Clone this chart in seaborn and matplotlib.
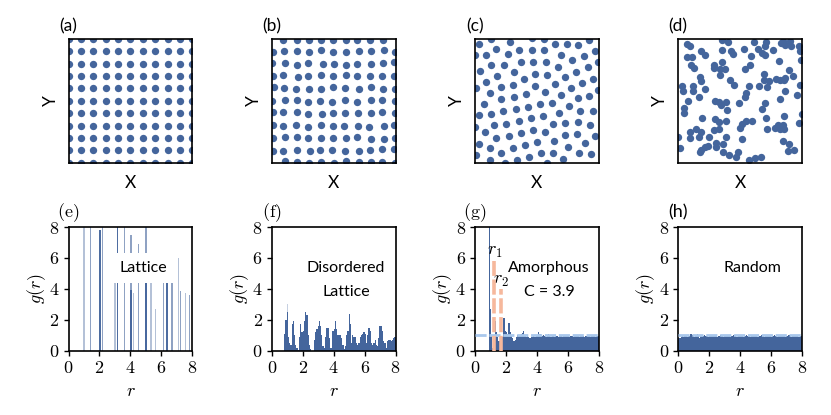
import numpy as np
import pandas as pd
import seaborn as sns
import matplotlib
matplotlib.use('Agg')
import matplotlib.pyplot as plt

# lattice positions
lattice_x = [0, 1, 2, 3, 4, 5, 6, 7, 8, 9, 10]
lattice_y = [0, 1, 2, 3, 4, 5, 6, 7, 8, 9, 10]

# point positions (arbitrary units, y pointing down)
disordered_pts = [
    (130, 90), (170, 90), (208, 90), (243, 90), (280, 90), (320, 90), (353, 90), (392, 90), (430, 90),
    (100, 126), (133, 123), (172, 124), (206, 126), (244, 121), (279, 127), (319, 127), (358, 124), (395, 125), (433, 121), (465, 126),
    (97, 160), (135, 160), (171, 165), (205, 159), (248, 164), (282, 164), (318, 165), (353, 164), (394, 164), (429, 160), (462, 158),
    (100, 200), (128, 196), (173, 202), (203, 198), (242, 195), (280, 200), (319, 196), (352, 199), (390, 198), (428, 198), (462, 200),
    (102, 232), (133, 235), (169, 238), (208, 238), (244, 238), (280, 232), (316, 235), (358, 238), (394, 233), (431, 237), (465, 238),
    (97, 272), (136, 270), (170, 270), (203, 276), (240, 272), (278, 276), (317, 270), (352, 276), (394, 270), (427, 270), (465, 273),
    (100, 307), (130, 307), (170, 306), (205, 312), (245, 312), (279, 310), (317, 310), (354, 309), (393, 310), (427, 306), (465, 309),
    (98, 345), (130, 348), (168, 346), (204, 350), (243, 346), (279, 347), (314, 347), (355, 349), (389, 350), (433, 348), (462, 345),
    (98, 383), (136, 380), (170, 380), (204, 385), (242, 385), (281, 385), (320, 383), (351, 380), (395, 386), (433, 386), (465, 383),
    (98, 423), (130, 422), (171, 419), (210, 422), (241, 420), (278, 420), (315, 422), (357, 423), (390, 420), (427, 418), (462, 418),
    (135, 452), (170, 456), (207, 458), (243, 456), (283, 458), (320, 452), (358, 456), (394, 456), (428, 456), (465, 458),
]
amorphous_pts = [
    (103, 103), (138, 88), (196, 96), (260, 86), (296, 88), (330, 103), (366, 103), (401, 107), (434, 92),
    (90, 135), (122, 135), (154, 119), (188, 132), (223, 122), (260, 120), (297, 121), (349, 135), (451, 124), (417, 140),
    (139, 166), (176, 167), (227, 158), (264, 157), (303, 156), (338, 171), (381, 152), (430, 173), (460, 158),
    (106, 183), (156, 198), (206, 188), (270, 192), (306, 195), (360, 201), (394, 187),
    (122, 217), (169, 231), (204, 225), (237, 207), (269, 229), (329, 224), (413, 219), (446, 207),
    (93, 235), (136, 250), (168, 268), (207, 261), (244, 254), (300, 247), (349, 255), (380, 234), (401, 265), (434, 258), (460, 240),
    (118, 281), (175, 304), (213, 297), (250, 290), (286, 282), (322, 278), (373, 289), (407, 302), (444, 304),
    (103, 316), (139, 311), (342, 308), (294, 319), (258, 325), (221, 334), (184, 341), (148, 346), (90, 350),
    (119, 367), (154, 383), (191, 379), (228, 370), (265, 361), (301, 367), (324, 341), (362, 339), (399, 337), (436, 345),
    (102, 401), (136, 415), (203, 414), (239, 405), (276, 395), (327, 392), (360, 376), (396, 373), (452, 378), (421, 398),
    (92, 434), (169, 430), (252, 440), (289, 428), (324, 428), (370, 411), (402, 429), (438, 431),
    (134, 450), (217, 449), (306, 458), (356, 446), (180, 458),
]
random_pts = [
    (112, 102), (122, 108), (218, 90), (236, 98), (312, 98), (350, 98), (346, 110), (395, 100), (405, 105), (420, 95), (400, 93), (425, 110), (448, 108), (450, 125),
    (155, 125), (165, 135), (218, 120), (243, 123), (250, 132), (283, 119), (324, 118), (338, 130), (346, 135), (370, 122), (304, 138),
    (112, 142), (127, 142), (453, 150), (389, 153),
    (193, 165), (218, 157), (125, 167), (133, 175), (193, 175), (212, 177), (227, 177), (300, 165), (286, 177), (210, 195), (417, 180), (344, 193), (431, 199),
    (151, 201), (153, 215), (240, 212), (253, 226), (378, 209), (392, 210), (405, 205), (403, 212), (344, 212), (357, 213), (351, 233), (329, 228), (298, 228),
    (96, 228), (100, 243), (131, 230), (130, 245), (167, 237), (405, 244), (452, 227),
    (147, 262), (115, 272), (197, 272), (208, 277), (215, 285), (230, 276), (267, 280), (288, 250), (287, 262), (390, 267), (443, 257), (347, 279), (232, 300), (338, 298),
    (103, 293), (104, 310), (157, 323), (196, 327), (209, 335), (228, 332), (349, 323), (404, 318), (290, 333), (308, 332), (278, 342), (272, 355), (447, 340), (456, 312),
    (122, 365), (140, 357), (155, 365), (193, 360), (207, 358), (352, 357), (375, 355), (385, 345), (400, 345), (390, 358), (403, 358), (122, 384), (149, 380), (179, 381), (228, 381), (277, 386), (85, 382),
    (200, 398), (198, 410), (220, 402), (175, 407), (165, 412), (155, 420), (150, 425), (90, 415), (401, 393), (418, 402), (432, 419), (414, 424),
    (220, 426), (238, 436), (266, 426), (260, 442), (298, 450), (315, 443), (335, 441),
]

# g(r) of the lattice, split by how dark the thin bars look
lattice_r_dark = [2.0, 3.15, 4.0, 5.0, 6.35]
lattice_g_dark = [7.8, 12, 3.9, 4.5, 4.45]
lattice_r_mid = [1.36, 2.2, 3.6, 4.05, 4.5, 5.0, 6.1, 6.67, 7.25, 7.8]
lattice_g_mid = [12, 12, 12, 7.5, 6.9, 12, 4.45, 4.35, 3.85, 3.6]
lattice_r_pale = [1.0, 3.0, 4.17, 5.35, 5.65, 7.05, 7.57]
lattice_g_pale = [12, 4.55, 3.7, 4.45, 2.7, 6.0, 3.7]

# g(r) of the other panels, one value per 0.08 wide bin
disordered_g = [0, 0, 0, 0, 0, 0, 0, 0, 0, 0,
                1.1, 2.0, 2.5, 0.9, 0.5, 0.4, 1.7, 1.9, 1.0, 0.4,
                0.15, 0.05, 0.9, 1.7, 1.2, 1.3, 1.9, 2.5, 2.3, 1.0,
                0.4, 0.1, 0, 0, 0.7, 1.2, 1.4, 1.6, 1.9, 1.6,
                1.0, 0.3, 0.2, 0.9, 1.5, 1.5, 0.8, 0.2, 0.2, 1.3,
                1.4, 1.9, 1.4, 1.0, 1.0, 1.0, 0.8, 0.4, 0.1, 0.3,
                1.0, 1.3, 2.4, 1.7, 0.5, 1.0, 0.9, 0.9, 0.5, 0.4,
                0.5, 0.9, 1.0, 1.1, 1.2, 1.1, 0.5, 1.0, 1.5, 1.3,
                0.5, 0.4, 0.5, 0.7, 0.4, 0.3, 0.8, 1.6, 1.6, 1.3,
                0.6, 0.5, 0.2, 0.6, 0.7, 0.7, 0.6, 0.7, 0.8, 0.9]
amorphous_g = [0, 0, 0, 0, 0, 0, 0, 0, 0, 0,
               0, 12, 2.7, 1.0, 0.2, 0.6, 1.9, 1.2, 0.9, 0.6,
               0.5, 0.7, 0.9, 2.1, 1.3, 1.2, 1.1, 1.8, 1.2, 1.0,
               0.8, 0.6, 0.7, 0.9, 1.0, 1.0, 1.0, 1.1, 1.15, 1.3,
               1.0, 0.9, 0.95, 0.9, 0.85, 0.9, 0.9, 0.95, 0.9, 0.95,
               1.0, 1.2, 1.1, 1.0, 0.95, 1.0, 0.95, 0.9, 0.95, 1.05,
               0.95, 0.9, 1.0, 0.95, 0.9, 0.95, 0.95, 0.9, 0.95, 0.95,
               0.9, 0.95, 0.95, 1.0, 0.95, 0.95, 0.9, 0.95, 0.95, 0.9,
               0.95, 0.95, 1.0, 0.95, 0.9, 0.95, 0.95, 0.95, 0.9, 0.95,
               0.95, 1.0, 0.95, 0.9, 0.95, 0.95, 0.95, 0.9, 0.95, 0.95]
random_g = [0.8, 0.85, 0.9, 0.95, 0.9, 0.95, 0.95, 0.9, 1.0, 0.95,
            1.05, 1.0, 0.95, 0.9, 1.0, 1.05, 0.95, 0.85, 0.95, 1.0,
            0.95, 1.0, 0.95, 0.95, 0.9, 0.95, 1.0, 0.95, 0.95, 1.0,
            0.95, 0.9, 0.95, 0.95, 1.0, 0.95, 0.9, 0.95, 0.95, 1.0,
            0.95, 0.95, 0.9, 0.95, 1.0, 0.95, 0.95, 0.9, 0.95, 0.95,
            1.0, 0.95, 0.9, 0.95, 0.95, 1.0, 0.95, 0.95, 0.9, 0.95,
            0.95, 1.0, 0.95, 0.95, 0.9, 0.95, 0.95, 1.0, 0.95, 0.9,
            0.95, 0.95, 1.0, 0.95, 0.95, 0.9, 0.95, 1.0, 0.95, 0.95,
            0.9, 0.95, 0.95, 1.0, 0.95, 0.95, 0.9, 0.95, 0.95, 1.0,
            0.95, 0.9, 0.95, 0.95, 1.0, 0.95, 0.95, 0.9, 0.95, 0.95]
disordered_tip_r = [0.96]
disordered_tip_g = [3.0]

top_labels = ['(a)', '(b)', '(c)', '(d)']
bottom_labels = ['$\\mathrm{(e)}$', '$\\mathrm{(f)}$', '$\\mathrm{(g)}$', '(h)']
ticks = [0, 2, 4, 6, 8]
r1, r2 = 1.25, 1.7

blue = '#44659c'
light = '#a9c8ec'
orange = '#f6b89c'
SANS = 'Lato'

sns.set_style('ticks')
plt.rcParams['font.family'] = [SANS, 'DejaVu Sans']
plt.rcParams['mathtext.fontset'] = 'cm'
plt.rcParams['axes.linewidth'] = 1.2
plt.rcParams['axes.edgecolor'] = 'black'
plt.rcParams['text.color'] = 'black'
plt.rcParams['axes.labelcolor'] = 'black'
plt.rcParams['xtick.color'] = 'black'
plt.rcParams['ytick.color'] = 'black'

fig, axes = plt.subplots(2, 4, figsize=(8.31, 4.15), dpi=100)
fig.subplots_adjust(left=68.5 / 831, right=802 / 831, top=1 - 39 / 415, bottom=1 - 350.7 / 415,
                    wspace=0.64, hspace=0.52)


def points(ax, pts, xlim, ylim):
    df = pd.DataFrame(pts, columns=['x', 'y'])
    sns.scatterplot(data=df, x='x', y='y', ax=ax, color=blue, s=28, linewidth=0, legend=False)
    ax.set_xlim(*xlim)
    ax.set_ylim(*ylim)


def bars(ax, r, g, alpha=1.0):
    sns.histplot(x=r, weights=g, binwidth=0.08, binrange=(0, 8), ax=ax, color=blue,
                 alpha=alpha, linewidth=0, legend=False)


def area(ax, r, g):
    # step outline, separate bars leave seams at this width
    sns.histplot(x=r, weights=g, binwidth=0.08, binrange=(0, 8), ax=ax, color=blue,
                 element='step', alpha=1.0, linewidth=0, legend=False)


# top row, the point patterns
lattice_pts = [(x, y) for x in lattice_x for y in lattice_y]
points(axes[0, 0], lattice_pts, (0, 10), (10, 0))
points(axes[0, 1], disordered_pts, (95, 468), (458, 88))
points(axes[0, 2], amorphous_pts, (90, 462), (458, 88))
points(axes[0, 3], random_pts, (85, 457), (458, 88))

for ax, lab in zip(axes[0], top_labels):
    ax.set_xticks([])
    ax.set_yticks([])
    ax.set_xlabel('X', fontsize=12.5, labelpad=9)
    ax.set_ylabel('Y', fontsize=12.5, labelpad=7)
    ax.text(0, 1.105, lab, transform=ax.transAxes, ha='center', va='center', fontsize=12.5)

# bottom row, g(r)
r_bins = [i * 0.08 + 0.04 for i in range(100)]
bars(axes[1, 0], lattice_r_pale, lattice_g_pale, alpha=0.4)
bars(axes[1, 0], lattice_r_mid, lattice_g_mid, alpha=0.6)
bars(axes[1, 0], lattice_r_dark, lattice_g_dark, alpha=0.95)
bars(axes[1, 1], disordered_tip_r, disordered_tip_g, alpha=0.3)
area(axes[1, 1], r_bins, disordered_g)
area(axes[1, 2], r_bins, amorphous_g)
area(axes[1, 3], r_bins, random_g)

for ax in axes[1, 2:]:
    ax.axhline(1, color=light, lw=2, ls=(0, (4, 1)), zorder=3)

axes[1, 2].vlines(r1, 0, 5.8, color=orange, lw=2.6, linestyles=[(0, (4.2, 1))], zorder=4)
axes[1, 2].vlines(r2, 0, 4.0, color=orange, lw=2.6, linestyles=[(0, (4.2, 1))], zorder=4)
axes[1, 2].text(r1, 6.4, '$r_1$', ha='center', va='center', fontsize=13)
axes[1, 2].text(r2, 4.5, '$r_2$', ha='center', va='center', fontsize=13)

axes[1, 0].text(4.82, 5.36, 'Lattice', ha='center', va='center', fontsize=11.5,
                bbox=dict(facecolor='white', edgecolor='none', pad=6), zorder=5)
axes[1, 1].text(4.8, 5.36, 'Disordered', ha='center', va='center', fontsize=11.5)
axes[1, 1].text(4.8, 3.77, 'Lattice', ha='center', va='center', fontsize=11.5)
axes[1, 2].text(4.8, 5.36, 'Amorphous', ha='center', va='center', fontsize=11.5)
axes[1, 2].text(4.8, 3.77, 'C = 3.9', ha='center', va='center', fontsize=11.5)
axes[1, 3].text(4.78, 5.36, 'Random', ha='center', va='center', fontsize=11.5)

for ax, lab in zip(axes[1], bottom_labels):
    ax.set_xlim(0, 8)
    ax.set_ylim(0, 8)
    ax.set_xticks(ticks)
    ax.set_yticks(ticks)
    ax.set_xticklabels([f'${t}$' for t in ticks])
    ax.set_yticklabels([f'${t}$' for t in ticks])
    ax.tick_params(labelsize=13, length=3.5, width=1, pad=3, color='black')
    ax.set_xlabel('$r$', fontsize=13, labelpad=5)
    ax.set_ylabel('$g(r)$', fontsize=13, labelpad=1)
    ax.text(0, 1.115, lab, transform=ax.transAxes, ha='center', va='center', fontsize=13)

plt.savefig('out.png', dpi=100)
